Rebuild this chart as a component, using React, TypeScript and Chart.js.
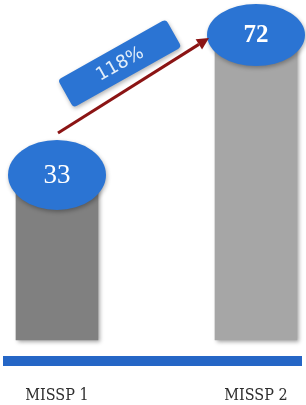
import { useEffect, useRef } from "react";
import { Chart, registerables } from "chart.js";
Chart.register(...registerables);

const categories = ["MISSP 1", "MISSP 2"];
const values = [33, 72];
const barColors = ["#808080", "#a6a6a6"];
const valueFonts = ["27px 'Liberation Serif'", "bold 25px 'Liberation Serif'"];
const ellipseRy = [35, 31];
const axisBase = -13;
const axisMax = 81.75;

export default function App() {
  const ref = useRef<HTMLCanvasElement>(null);
  useEffect(() => {
    document.body.style.margin = "0";
    const growth = Math.round(((values[1] - values[0]) / values[0]) * 100);

    const deco = {
      id: "deco",
      beforeDatasetsDraw(chart: any) {
        const ctx = chart.ctx;
        const base = chart.scales.y.getPixelForValue(axisBase);
        ctx.save();
        ctx.fillStyle = "#2566c6";
        ctx.fillRect(3, base + 16, chart.width - 7, 10);
        ctx.restore();
        ctx.save();
        ctx.shadowColor = "rgba(0,0,0,0.35)";
        ctx.shadowBlur = 4;
        ctx.shadowOffsetX = 2;
        ctx.shadowOffsetY = 2;
      },
      afterDatasetsDraw(chart: any) {
        const ctx = chart.ctx;
        ctx.restore();
        const meta = chart.getDatasetMeta(0);
        const els = meta.data;
        els.forEach((el: any, i: number) => {
          ctx.save();
          ctx.shadowColor = "rgba(0,0,0,0.3)";
          ctx.shadowBlur = 4;
          ctx.shadowOffsetX = 1;
          ctx.shadowOffsetY = 2;
          ctx.fillStyle = "#2b74d3";
          ctx.beginPath();
          ctx.ellipse(el.x, el.y, 49, ellipseRy[i], 0, 0, Math.PI * 2);
          ctx.fill();
          ctx.restore();
          ctx.save();
          ctx.fillStyle = "#ffffff";
          ctx.font = valueFonts[i];
          ctx.textAlign = "center";
          ctx.textBaseline = "middle";
          ctx.fillText(String(values[i]), el.x, el.y + 1);
          ctx.restore();
        });
        const a = els[0];
        const b = els[1];
        const sx = a.x + 1;
        const sy = a.y - 42;
        const ex = b.x - 47;
        const ey = b.y + 3;
        const th = Math.atan2(ey - sy, ex - sx);
        const dx = Math.cos(th);
        const dy = Math.sin(th);
        const head = 12;
        ctx.save();
        ctx.strokeStyle = "#8b1414";
        ctx.fillStyle = "#8b1414";
        ctx.lineWidth = 3;
        ctx.beginPath();
        ctx.moveTo(sx, sy);
        ctx.lineTo(ex - dx * head, ey - dy * head);
        ctx.stroke();
        ctx.beginPath();
        ctx.moveTo(ex, ey);
        ctx.lineTo(ex - dx * head - dy * 6, ey - dy * head + dx * 6);
        ctx.lineTo(ex - dx * head + dy * 6, ey - dy * head - dx * 6);
        ctx.closePath();
        ctx.fill();
        ctx.restore();
        const mx = (sx + ex) / 2;
        const my = (sy + ey) / 2;
        const cx = mx + dy * 26;
        const cy = my - dx * 26;
        ctx.save();
        ctx.translate(cx, cy);
        ctx.rotate(th + 0.05);
        ctx.shadowColor = "rgba(0,0,0,0.3)";
        ctx.shadowBlur = 4;
        ctx.shadowOffsetX = 1;
        ctx.shadowOffsetY = 2;
        ctx.fillStyle = "#2b74d3";
        ctx.beginPath();
        (ctx as any).roundRect(-62, -16, 124, 32, 4);
        ctx.fill();
        ctx.shadowColor = "transparent";
        ctx.fillStyle = "#e2eefa";
        ctx.font = "18px 'DejaVu Sans'";
        ctx.textAlign = "center";
        ctx.textBaseline = "middle";
        ctx.fillText(growth + "%", 0, 1);
        ctx.restore();
      },
    };

    const chart = new Chart(ref.current as HTMLCanvasElement, {
      type: "bar",
      data: {
        labels: categories,
        datasets: [
          {
            data: values,
            backgroundColor: barColors,
            barThickness: 82,
            base: axisBase,
            clip: false,
          } as any,
        ],
      },
      options: {
        animation: false,
        responsive: true,
        maintainAspectRatio: false,
        layout: { padding: { left: 57, right: 50, top: 0, bottom: 0 } },
        plugins: { legend: { display: false }, tooltip: { enabled: false } },
        scales: {
          x: {
            offset: false,
            grid: { display: false, drawTicks: false },
            border: { display: false },
            ticks: {
              font: { family: "'DejaVu Serif Condensed', 'DejaVu Serif'", size: 16 },
              color: "#2e2e2e",
              padding: 46,
              maxRotation: 0,
              autoSkip: false,
            },
            afterFit: (s: any) => {
              s.height = 65;
              s.paddingLeft = 0;
              s.paddingRight = 0;
            },
          },
          y: { display: false, min: axisBase, max: axisMax },
        },
      },
      plugins: [deco],
    });
    return () => chart.destroy();
  }, []);
  return (
    <div style={{ width: 306, height: 405, position: "relative" }}>
      <canvas ref={ref} />
    </div>
  );
}
